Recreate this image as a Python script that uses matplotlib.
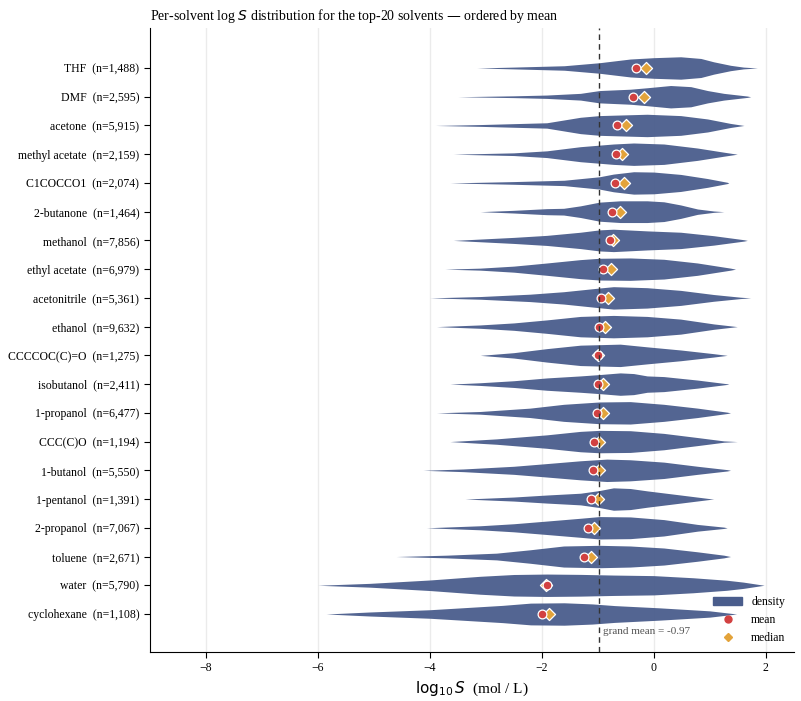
import matplotlib
matplotlib.use("Agg")
import matplotlib.pyplot as plt
from matplotlib.patches import Patch
from matplotlib.lines import Line2D
import numpy as np

plt.rcParams["font.family"] = ["Liberation Serif", "DejaVu Serif"]
plt.rcParams["mathtext.fontset"] = "dejavusans"

solvents = ["THF", "DMF", "acetone", "methyl acetate", "C1COCCO1", "2-butanone",
            "methanol", "ethyl acetate", "acetonitrile", "ethanol", "CCCCOC(C)=O",
            "isobutanol", "1-propanol", "CCC(C)O", "1-butanol", "1-pentanol",
            "2-propanol", "toluene", "water", "cyclohexane"]
counts = [1488, 2595, 5915, 2159, 2074, 1464, 7856, 6979, 5361, 9632, 1275,
          2411, 6477, 1194, 5550, 1391, 7067, 2671, 5790, 1108]
means = [-0.31, -0.37, -0.66, -0.67, -0.70, -0.75, -0.79, -0.90, -0.94, -0.97,
         -0.99, -1.00, -1.01, -1.07, -1.09, -1.12, -1.17, -1.24, -1.90, -2.00]
medians = [-0.14, -0.17, -0.49, -0.57, -0.54, -0.61, -0.73, -0.76, -0.82, -0.88,
           -0.99, -0.91, -0.91, -0.97, -0.97, -0.99, -1.07, -1.13, -1.93, -1.87]
grand_mean = -0.97

# density outline per solvent: (log S, relative half-width)
profiles = [
    [(-3.16, 0), (-2.5, 0.08), (-1.6, 0.2), (-0.97, 0.47), (-0.42, 0.8), (0, 0.92),
     (0.48, 1.0), (0.84, 0.85), (1.07, 0.55), (1.37, 0.24), (1.6, 0.08), (1.85, 0)],
    [(-3.5, 0), (-2.5, 0.08), (-1.91, 0.15), (-1.31, 0.3), (-0.97, 0.55), (-0.42, 0.67),
     (-0.12, 0.8), (0.3, 1.0), (0.66, 0.9), (0.96, 0.55), (1.25, 0.3), (1.67, 0.06), (1.73, 0)],
    [(-3.9, 0), (-3.1, 0.08), (-1.91, 0.24), (-1.31, 0.73), (-0.97, 0.88), (-0.12, 1.0),
     (0.48, 0.88), (0.96, 0.58), (1.37, 0.18), (1.61, 0)],
    [(-3.58, 0), (-2.5, 0.12), (-1.91, 0.3), (-1.31, 0.67), (-0.72, 0.91), (-0.36, 1.0),
     (0.18, 0.91), (0.78, 0.55), (1.25, 0.18), (1.49, 0)],
    [(-3.64, 0), (-2.5, 0.12), (-1.6, 0.24), (-0.97, 0.55), (-0.72, 0.79), (-0.36, 1.0),
     (0, 0.97), (0.48, 0.76), (0.96, 0.39), (1.31, 0.06), (1.34, 0)],
    [(-3.1, 0), (-2.5, 0.12), (-1.91, 0.27), (-1.61, 0.3), (-1.31, 0.52), (-0.97, 0.85),
     (-0.6, 0.97), (-0.12, 0.97), (0.18, 0.88), (0.48, 0.6), (0.78, 0.24), (1.07, 0.06), (1.25, 0)],
    [(-3.58, 0), (-2.5, 0.27), (-1.91, 0.45), (-1.31, 0.73), (-0.97, 0.94), (-0.72, 1.0),
     (-0.12, 0.85), (0.18, 0.79), (0.48, 0.73), (1.07, 0.42), (1.61, 0.06), (1.67, 0)],
    [(-3.73, 0), (-3.1, 0.09), (-2.5, 0.27), (-1.91, 0.55), (-1.31, 0.85), (-0.97, 0.97),
     (-0.42, 1.0), (0.18, 0.88), (0.78, 0.55), (1.37, 0.09), (1.46, 0)],
    [(-4.0, 0), (-3.1, 0.12), (-2.21, 0.33), (-1.61, 0.55), (-0.97, 0.88), (-0.72, 1.0),
     (-0.12, 0.91), (0.48, 0.67), (1.07, 0.3), (1.55, 0.06), (1.73, 0)],
    [(-3.88, 0), (-3.1, 0.15), (-2.5, 0.33), (-1.91, 0.6), (-1.31, 0.91), (-0.72, 1.0),
     (-0.12, 0.91), (0.48, 0.67), (1.07, 0.24), (1.49, 0)],
    [(-3.1, 0), (-2.5, 0.24), (-1.91, 0.6), (-1.31, 0.91), (-0.6, 1.0), (-0.12, 0.76),
     (0.48, 0.48), (1.07, 0.15), (1.31, 0)],
    [(-3.64, 0), (-3.1, 0.12), (-2.5, 0.3), (-1.91, 0.55), (-1.31, 0.73), (-0.97, 0.85),
     (-0.6, 1.0), (-0.36, 0.94), (-0.12, 0.73), (0.18, 0.67), (0.78, 0.36), (1.31, 0.03), (1.34, 0)],
    [(-3.88, 0), (-3.1, 0.12), (-2.21, 0.42), (-1.61, 0.76), (-0.97, 0.97), (-0.42, 1.0),
     (0.18, 0.76), (0.78, 0.42), (1.31, 0.06), (1.37, 0)],
    [(-3.64, 0), (-2.81, 0.24), (-1.91, 0.6), (-1.31, 0.91), (-0.97, 1.0), (-0.42, 0.97),
     (0.18, 0.73), (0.78, 0.36), (1.25, 0.06), (1.49, 0)],
    [(-4.12, 0), (-3.4, 0.12), (-2.5, 0.36), (-1.91, 0.6), (-1.31, 0.85), (-0.84, 1.0),
     (-0.42, 0.94), (0.18, 0.73), (0.78, 0.36), (1.31, 0.06), (1.37, 0)],
    [(-3.37, 0), (-2.5, 0.18), (-1.91, 0.36), (-1.31, 0.52), (-0.97, 0.76), (-0.72, 1.0),
     (-0.42, 0.94), (-0.12, 0.73), (0.48, 0.36), (1.01, 0.03), (1.07, 0)],
    [(-4.06, 0), (-3.1, 0.18), (-2.5, 0.36), (-1.91, 0.6), (-1.31, 0.85), (-0.97, 1.0),
     (-0.42, 0.97), (0.18, 0.73), (0.78, 0.3), (1.25, 0.06), (1.31, 0)],
    [(-4.6, 0), (-3.7, 0.12), (-2.81, 0.3), (-2.21, 0.6), (-1.61, 0.94), (-0.97, 1.0),
     (-0.42, 0.94), (0.18, 0.76), (0.78, 0.42), (1.25, 0.12), (1.37, 0)],
    [(-6.0, 0), (-5.07, 0.17), (-4.0, 0.47), (-3.1, 0.8), (-2.5, 0.96), (-1.91, 1.0),
     (-1.31, 0.97), (-0.72, 0.91), (0, 0.86), (0.7, 0.67), (1.3, 0.45), (1.6, 0.28), (1.97, 0)],
    [(-5.85, 0), (-5.07, 0.18), (-4.0, 0.38), (-2.7, 0.77), (-2.2, 0.97), (-1.6, 1.0),
     (-1.1, 0.9), (-0.7, 0.75), (0.1, 0.55), (0.6, 0.4), (1.0, 0.28), (1.48, 0)],
]

VIOLIN = "#4a5d8c"
MEAN_C = "#d24141"
MED_C = "#e3a33a"
HALF = 0.39

fig = plt.figure(figsize=(8.01, 7.01), dpi=100)
ax = fig.add_axes([0.187, 0.07, 0.804, 0.89])

for i, prof in enumerate(profiles):
    xs = np.array([p[0] for p in prof])
    ws = np.array([p[1] for p in prof]) * HALF
    ax.fill_between(xs, i - ws, i + ws, color=VIOLIN, alpha=0.95, lw=0, zorder=2)

y = np.arange(len(solvents))
ax.scatter(medians, y, marker="D", s=38, color=MED_C, edgecolor="white", lw=0.9, zorder=3)
ax.scatter(means, y, marker="o", s=40, color=MEAN_C, edgecolor="white", lw=0.9, zorder=4)

ax.axvline(grand_mean, color="#333333", ls=(0, (4, 3)), lw=1, zorder=5)
ax.text(grand_mean + 0.07, 19.6, f"grand mean = {grand_mean:.2f}", fontsize=8,
        color="#555555", va="center", ha="left")

ax.set_xlim(-9, 2.5)
ax.set_ylim(20.32, -1.39)
ax.set_yticks(y)
ax.set_yticklabels([f"{s}  (n={c:,})" for s, c in zip(solvents, counts)], fontsize=8.5)
ax.set_xticks([-8, -6, -4, -2, 0, 2])
ax.set_xticklabels(["\u22128", "\u22126", "\u22124", "\u22122", "0", "2"], fontsize=8.5)
ax.grid(axis="x", color="#ebebeb", lw=1, zorder=0)
ax.set_axisbelow(True)
for side in ["top", "right"]:
    ax.spines[side].set_visible(False)
ax.tick_params(length=4, width=0.8)

ax.set_xlabel(r"$\log_{10} S$  (mol / L)", fontsize=11)
ax.set_title(r"Per-solvent log $S$ distribution for the top-20 solvents — ordered by mean",
             loc="left", fontsize=10)

handles = [Patch(color=VIOLIN, label="density"),
           Line2D([], [], marker="o", ls="", color=MEAN_C, markersize=5, label="mean"),
           Line2D([], [], marker="D", ls="", color=MED_C, markersize=4.5, label="median")]
ax.legend(handles=handles, loc="lower right", frameon=False, fontsize=8.5,
          handlelength=2.4, borderaxespad=0.3)

fig.savefig("out.png", dpi=100)
